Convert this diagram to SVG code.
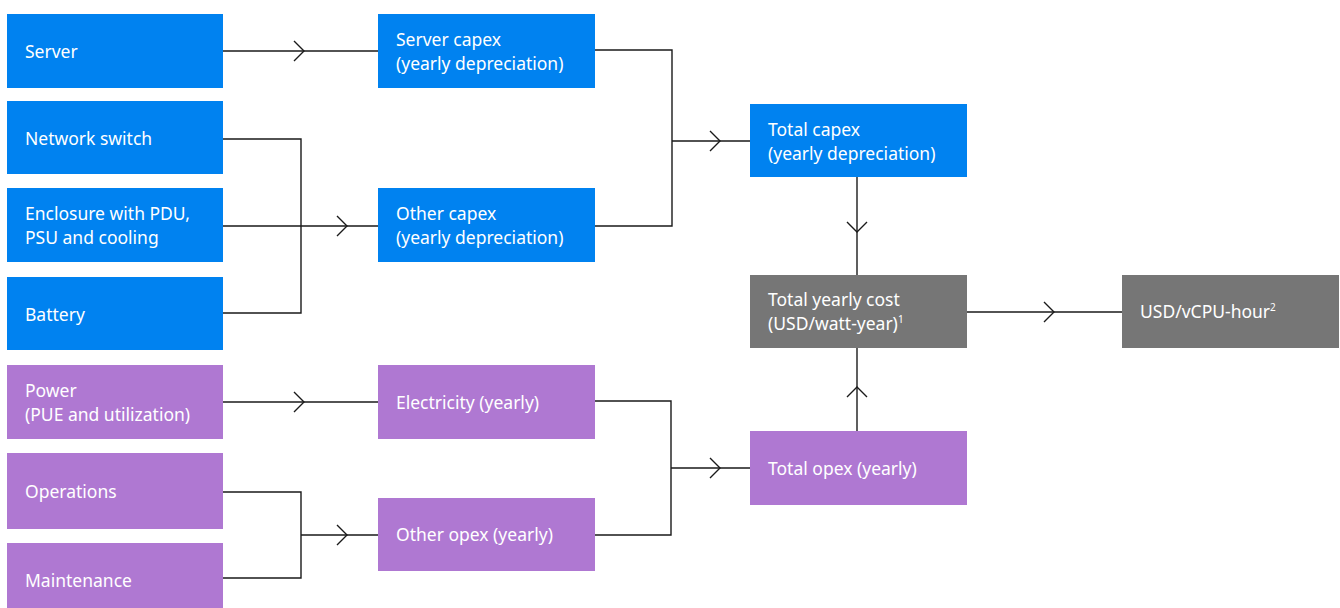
<svg xmlns="http://www.w3.org/2000/svg" width="1340" height="608" viewBox="0 0 1340 608">
<style>
.b{fill:#0082F0}
.p{fill:#AF78D2}
.g{fill:#767676}
text{font-family:"Noto Sans","Liberation Sans",sans-serif;font-size:17.5px;fill:#fff}
.sup{font-size:10px}
.ln{fill:none;stroke:#1a1a1a;stroke-width:1.4}
.ch{fill:none;stroke:#1a1a1a;stroke-width:1.4}
</style>
<rect width="1340" height="608" fill="#fff"/>
<g id="connectors">
<path class="ln" d="M222 51H378"/>
<polyline class="ch" points="294,41 304,51 294,61"/>
<path class="ln" d="M222 139H301V313H222M222 226H378"/>
<polyline class="ch" points="337,216 347,226 337,236"/>
<path class="ln" d="M595 50H672V226H595M672 141H750"/>
<polyline class="ch" points="710,131 720,141 710,151"/>
<path class="ln" d="M857 177V275"/>
<polyline class="ch" points="847,222 857,232 867,222"/>
<path class="ln" d="M857 431V348"/>
<polyline class="ch" points="847,397 857,387 867,397"/>
<path class="ln" d="M967 312H1122"/>
<polyline class="ch" points="1044,302 1054,312 1044,322"/>
<path class="ln" d="M222 402H378"/>
<polyline class="ch" points="294,392 304,402 294,412"/>
<path class="ln" d="M222 492H301V578H222M301 535H378"/>
<polyline class="ch" points="337,525 347,535 337,545"/>
<path class="ln" d="M595 401H671V535H595M671 468H750"/>
<polyline class="ch" points="710,458 720,468 710,478"/>
</g>
<g id="server"><rect class="b" x="7" y="14" width="216" height="74"/><text x="25" y="58">Server</text></g>
<g id="network-switch"><rect class="b" x="7" y="101" width="216" height="73"/><text x="25" y="145">Network switch</text></g>
<g id="enclosure"><rect class="b" x="7" y="188" width="216" height="74"/><text x="25" y="220">Enclosure with PDU,</text><text x="25" y="244">PSU and cooling</text></g>
<g id="battery"><rect class="b" x="7" y="277" width="216" height="73"/><text x="25" y="321">Battery</text></g>
<g id="power"><rect class="p" x="7" y="365" width="216" height="74"/><text x="25" y="397">Power</text><text x="25" y="421">(PUE and utilization)</text></g>
<g id="operations"><rect class="p" x="7" y="453" width="216" height="76"/><text x="25" y="498">Operations</text></g>
<g id="maintenance"><rect class="p" x="7" y="543" width="216" height="70"/><text x="25" y="587">Maintenance</text></g>
<g id="server-capex"><rect class="b" x="378" y="14" width="217" height="74"/><text x="396" y="46">Server capex</text><text x="396" y="70">(yearly depreciation)</text></g>
<g id="other-capex"><rect class="b" x="378" y="188" width="217" height="74"/><text x="396" y="220">Other capex</text><text x="396" y="244">(yearly depreciation)</text></g>
<g id="electricity"><rect class="p" x="378" y="365" width="217" height="74"/><text x="396" y="409">Electricity (yearly)</text></g>
<g id="other-opex"><rect class="p" x="378" y="498" width="217" height="73"/><text x="396" y="541">Other opex (yearly)</text></g>
<g id="total-capex"><rect class="b" x="750" y="104" width="217" height="73"/><text x="768" y="136">Total capex</text><text x="768" y="160">(yearly depreciation)</text></g>
<g id="total-yearly-cost"><rect class="g" x="750" y="275" width="217" height="73"/><text x="768" y="306">Total yearly cost</text><text x="768" y="330">(USD/watt-year)<tspan class="sup" dy="-7">1</tspan></text></g>
<g id="total-opex"><rect class="p" x="750" y="431" width="217" height="74"/><text x="768" y="475">Total opex (yearly)</text></g>
<g id="usd-vcpu-hour"><rect class="g" x="1122" y="275" width="217" height="73"/><text x="1140" y="318">USD/vCPU-hour<tspan class="sup" dy="-7">2</tspan></text></g>
</svg>
